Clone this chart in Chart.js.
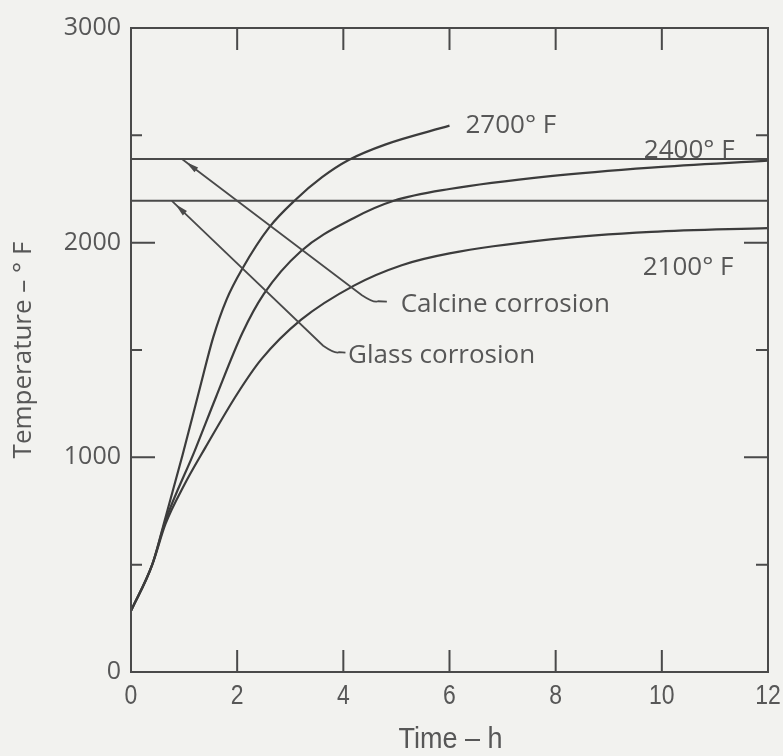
<!DOCTYPE html>
<html>
<head>
<meta charset="utf-8">
<script src="https://cdn.jsdelivr.net/npm/chart.js@4.4.1/dist/chart.umd.min.js"></script>
<style>
  html, body { margin: 0; padding: 0; background: #f2f2ef; }
  #wrap { width: 783px; height: 756px; }
</style>
</head>
<body>
<div id="wrap"><canvas id="chart" width="783" height="756"></canvas></div>
<script>
// Axis ticks
const hourTicks = [0, 2, 4, 6, 8, 10, 12];
const tempMajorTicks = [0, 1000, 2000, 3000];
const tempMinorTicks = [500, 1500, 2500];

// Heat-up curves for three furnace set points (time in h, temperature in °F)
const time2700 = [0, 0.4, 0.65, 0.97, 1.3, 1.55, 1.8, 2.1, 2.6, 3.1, 3.6, 4.1, 4.8, 6.0];
const temp2700 = [285, 500, 720, 1010, 1325, 1560, 1735, 1880, 2070, 2200, 2305, 2385, 2458, 2545];

const time2400 = [0, 0.4, 0.65, 1.2, 1.6, 2.1, 2.5, 3.2, 4.2, 4.95, 6.0, 7.9, 9.8, 12];
const temp2400 = [285, 500, 705, 1030, 1280, 1580, 1760, 1960, 2115, 2195, 2250, 2310, 2350, 2382];

const time2100 = [0, 0.4, 0.65, 1.0, 1.4, 2.0, 2.45, 3.2, 4.2, 5.1, 6.0, 7.9, 9.8, 12];
const temp2100 = [285, 500, 690, 870, 1045, 1295, 1455, 1640, 1800, 1895, 1950, 2015, 2050, 2068];

// Corrosion limits (horizontal lines)
const limitTimes = [0, 12];
const calcineLimit = [2390, 2390];
const glassLimit = [2195, 2195];

// Labels
const curveLabels = ['2700° F', '2400° F', '2100° F'];
const limitLabels = ['Calcine corrosion', 'Glass corrosion'];
const xTitle = 'Time – h';
const yTitle = 'Temperature – ° F';

const INK = '#4a4a4a';
const TEXT = '#575757';
const BODY_FONT = '"Open Sans", "Liberation Sans", sans-serif';
const NARROW_FONT = '"Liberation Sans", Arial, sans-serif';

const pts = (xs, ys) => xs.map((x, i) => ({ x: x, y: ys[i] }));

// Placement of the text labels and leader lines, in axis units
const labelAnchors = [
  { text: curveLabels[0], x: 6.3, y: 2545 },
  { text: curveLabels[1], x: 9.66, y: 2430 },
  { text: curveLabels[2], x: 9.64, y: 1885 },
  { text: limitLabels[0], x: 5.08, y: 1712 },
  { text: limitLabels[1], x: 4.09, y: 1476 }
];
const leaders = [
  [[0.96, 2390], [4.35, 1755], [4.58, 1727], [4.82, 1725]],
  [[0.77, 2195], [3.62, 1520], [3.85, 1490], [4.04, 1488]]
];

const curveStyle = {
  showLine: true, pointRadius: 0, borderColor: '#3c3c3c', borderWidth: 2.2,
  cubicInterpolationMode: 'monotone', fill: false
};
const limitStyle = { showLine: true, pointRadius: 0, borderColor: INK, borderWidth: 2, fill: false };

// Condensed text: the time axis uses a narrow face
function narrowText(ctx, text, cx, cy, size, squeeze) {
  ctx.save();
  ctx.font = size + 'px ' + NARROW_FONT;
  ctx.textAlign = 'center';
  ctx.textBaseline = 'middle';
  ctx.translate(cx, cy);
  ctx.scale(squeeze, 1);
  ctx.fillText(text, 0, 0);
  ctx.restore();
}

const decorations = {
  id: 'decorations',
  beforeDraw(chart) {
    const ctx = chart.ctx;
    ctx.save();
    ctx.fillStyle = '#f2f2ef';
    ctx.fillRect(0, 0, chart.width, chart.height);
    ctx.restore();
  },
  afterDatasetsDraw(chart) {
    const { ctx, chartArea: a, scales: { x, y } } = chart;
    ctx.save();
    ctx.strokeStyle = INK;
    ctx.lineWidth = 2;
    // frame
    ctx.strokeRect(a.left, a.top, a.right - a.left, a.bottom - a.top);
    // inward ticks on all four sides
    ctx.beginPath();
    hourTicks.slice(1, -1).forEach(h => {
      const px = x.getPixelForValue(h);
      ctx.moveTo(px, a.bottom); ctx.lineTo(px, a.bottom - 22);
      ctx.moveTo(px, a.top); ctx.lineTo(px, a.top + 22);
    });
    tempMajorTicks.slice(1, -1).forEach(v => {
      const py = y.getPixelForValue(v);
      ctx.moveTo(a.left, py); ctx.lineTo(a.left + 24, py);
      ctx.moveTo(a.right, py); ctx.lineTo(a.right - 24, py);
    });
    tempMinorTicks.forEach(v => {
      const py = y.getPixelForValue(v);
      ctx.moveTo(a.left, py); ctx.lineTo(a.left + 11, py);
      ctx.moveTo(a.right, py); ctx.lineTo(a.right - 12, py);
    });
    ctx.stroke();

    // leader lines with arrowheads
    ctx.lineWidth = 1.8;
    ctx.fillStyle = INK;
    leaders.forEach(path => {
      const p = path.map(([t, v]) => [x.getPixelForValue(t), y.getPixelForValue(v)]);
      ctx.beginPath();
      ctx.moveTo(p[0][0], p[0][1]);
      ctx.lineTo(p[1][0], p[1][1]);
      ctx.quadraticCurveTo(p[2][0], p[2][1] + 2, p[2][0] + 4, p[2][1]);
      ctx.lineTo(p[3][0], p[3][1]);
      ctx.stroke();
      const dx = p[1][0] - p[0][0], dy = p[1][1] - p[0][1];
      const len = Math.hypot(dx, dy), ux = dx / len, uy = dy / len;
      const tipX = p[0][0] + ux * 5, tipY = p[0][1] + uy * 5;
      const baseX = tipX + ux * 13, baseY = tipY + uy * 13;
      ctx.beginPath();
      ctx.moveTo(tipX, tipY);
      ctx.lineTo(baseX - uy * 3, baseY + ux * 3);
      ctx.lineTo(baseX + uy * 3, baseY - ux * 3);
      ctx.closePath();
      ctx.fill();
    });

    // text labels inside the plot
    ctx.fillStyle = TEXT;
    ctx.font = '26px ' + BODY_FONT;
    ctx.textAlign = 'left';
    ctx.textBaseline = 'middle';
    labelAnchors.forEach(l => {
      ctx.fillText(l.text, x.getPixelForValue(l.x), y.getPixelForValue(l.y));
    });

    // time axis tick labels and title
    hourTicks.forEach(h => narrowText(ctx, String(h), x.getPixelForValue(h), a.bottom + 24, 28, 0.82));
    narrowText(ctx, xTitle, (a.left + a.right) / 2 + 1, a.bottom + 68, 30, 0.9);
    ctx.restore();
  }
};

new Chart(document.getElementById('chart'), {
  type: 'scatter',
  data: {
    datasets: [
      Object.assign({ label: curveLabels[0], data: pts(time2700, temp2700) }, curveStyle),
      Object.assign({ label: curveLabels[1], data: pts(time2400, temp2400) }, curveStyle),
      Object.assign({ label: curveLabels[2], data: pts(time2100, temp2100) }, curveStyle),
      Object.assign({ label: limitLabels[0], data: pts(limitTimes, calcineLimit) }, limitStyle),
      Object.assign({ label: limitLabels[1], data: pts(limitTimes, glassLimit) }, limitStyle)
    ]
  },
  options: {
    responsive: false,
    animation: false,
    devicePixelRatio: 1,
    layout: { padding: { top: 28, right: 15, left: 0, bottom: 0 } },
    plugins: { legend: { display: false }, tooltip: { enabled: false } },
    scales: {
      x: {
        type: 'linear', min: 0, max: 12,
        afterBuildTicks: s => { s.ticks = hourTicks.map(v => ({ value: v })); },
        afterFit: s => { s.height = 84; },
        grid: { display: false, drawTicks: false },
        border: { display: false },
        ticks: { display: false },
        title: { display: false, text: xTitle }
      },
      y: {
        type: 'linear', min: 0, max: 3000,
        afterBuildTicks: s => { s.ticks = tempMajorTicks.map(v => ({ value: v })); },
        afterFit: s => { s.width = 131; },
        grid: { display: false, drawTicks: false },
        border: { display: false },
        ticks: { color: TEXT, padding: 10, font: { family: BODY_FONT, size: 25 },
                 callback: v => String(v) },
        title: { display: true, text: yTitle, color: TEXT, padding: { top: 8, bottom: 0 },
                 font: { family: BODY_FONT, size: 26 } }
      }
    }
  },
  plugins: [decorations]
});
</script>
</body>
</html>
